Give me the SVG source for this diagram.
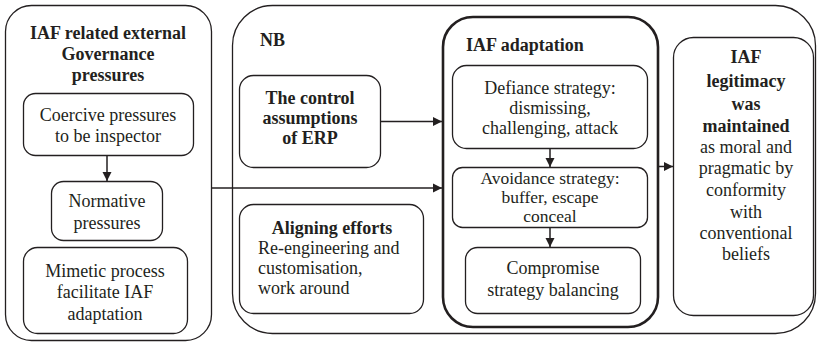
<svg xmlns="http://www.w3.org/2000/svg" width="818" height="344" viewBox="0 0 818 344">
<style>
.b{fill:#fff;stroke:#231f20;stroke-width:1.3}
.thick{fill:#fff;stroke:#231f20;stroke-width:2.6}
.t text{font-family:'Liberation Serif','Times New Roman',serif;font-size:18px;fill:#231f20}
.c{text-anchor:middle}
.bold{font-weight:bold}
.ln{stroke:#231f20;stroke-width:1.5;fill:none;marker-end:url(#ah)}
</style>
<defs>
<marker id="ah" markerUnits="userSpaceOnUse" markerWidth="10" markerHeight="10" refX="9" refY="5" orient="auto">
<path d="M0,0.5 L9,5 L0,9.5 Z" fill="#231f20"/>
</marker>
</defs>
<rect width="818" height="344" fill="#fff"/>
<g class="t" font-family="Liberation Serif, serif">

<g id="external">
<rect class="b" x="5.5" y="5.5" width="206" height="335" rx="26"/>
<text class="c bold" x="108" y="39">IAF related external</text>
<text class="c bold" x="108" y="60">Governance</text>
<text class="c bold" x="108" y="81">pressures</text>
</g>
<g id="coercive">
<rect class="b" x="23.5" y="93.5" width="170" height="62" rx="12"/>
<text class="c" x="108" y="121">Coercive pressures</text>
<text class="c" x="108" y="142">to be inspector</text>
</g>
<g id="normative">
<rect class="b" x="51.5" y="181.5" width="111" height="59" rx="12"/>
<text class="c" x="107" y="207">Normative</text>
<text class="c" x="107" y="229">pressures</text>
</g>
<g id="mimetic">
<rect class="b" x="23.5" y="247.5" width="164" height="86" rx="14"/>
<text class="c" x="105" y="277">Mimetic process</text>
<text class="c" x="105" y="298">facilitate IAF</text>
<text class="c" x="105" y="320">adaptation</text>
</g>

<g id="nb">
<rect class="b" x="232.5" y="5.5" width="583" height="328" rx="40"/>
<text class="bold" x="260" y="46">NB</text>
</g>
<g id="control">
<rect class="b" x="239.5" y="75.5" width="141" height="92" rx="14"/>
<text class="c bold" x="310" y="104">The control</text>
<text class="c bold" x="310" y="124">assumptions</text>
<text class="c bold" x="310" y="144">of ERP</text>
</g>
<g id="aligning">
<rect class="b" x="239.5" y="204.5" width="184" height="109" rx="14"/>
<text class="c bold" x="332" y="234">Aligning efforts</text>
<text x="258" y="254">Re-engineering and</text>
<text x="258" y="274">customisation,</text>
<text x="258" y="294">work around</text>
</g>

<g id="adaptation">
<rect class="thick" x="443" y="17" width="215" height="310" rx="30"/>
<text class="bold" x="466" y="51">IAF adaptation</text>
</g>
<g id="defiance">
<rect class="b" x="452.5" y="65.5" width="195" height="83" rx="14"/>
<text class="c" x="550" y="94">Defiance strategy:</text>
<text class="c" x="550" y="114">dismissing,</text>
<text class="c" x="550" y="134">challenging, attack</text>
</g>
<g id="avoidance">
<rect class="b" x="452.5" y="167.5" width="195" height="60" rx="10"/>
<text class="c" x="550" y="184" style="font-size:17.5px">Avoidance strategy:</text>
<text class="c" x="550" y="203" style="font-size:17.5px">buffer, escape</text>
<text class="c" x="550" y="222" style="font-size:17.5px">conceal</text>
</g>
<g id="compromise">
<rect class="b" x="465.5" y="247.5" width="175" height="66" rx="12"/>
<text class="c" x="553" y="274">Compromise</text>
<text class="c" x="553" y="296">strategy balancing</text>
</g>

<g id="legitimacy">
<rect class="b" x="673.5" y="37.5" width="140" height="278" rx="20"/>
<text class="c bold" x="746" y="63">IAF</text>
<text class="c bold" x="746" y="87">legitimacy</text>
<text class="c bold" x="746" y="110">was</text>
<text class="c bold" x="746" y="132">maintained</text>
<text class="c" x="746" y="153">as moral and</text>
<text class="c" x="746" y="174">pragmatic by</text>
<text class="c" x="746" y="196">conformity</text>
<text class="c" x="746" y="218">with</text>
<text class="c" x="746" y="239">conventional</text>
<text class="c" x="746" y="260">beliefs</text>
</g>
</g>

<g id="connectors">
<line class="ln" x1="107" y1="156" x2="107" y2="181"/>
<line class="ln" x1="212" y1="188" x2="442" y2="188"/>
<line class="ln" x1="381" y1="121.5" x2="442" y2="121.5"/>
<line class="ln" x1="550" y1="149" x2="550" y2="167"/>
<line class="ln" x1="550" y1="228" x2="550" y2="247"/>
<line class="ln" x1="659" y1="166.5" x2="673" y2="166.5"/>
</g>
</svg>
